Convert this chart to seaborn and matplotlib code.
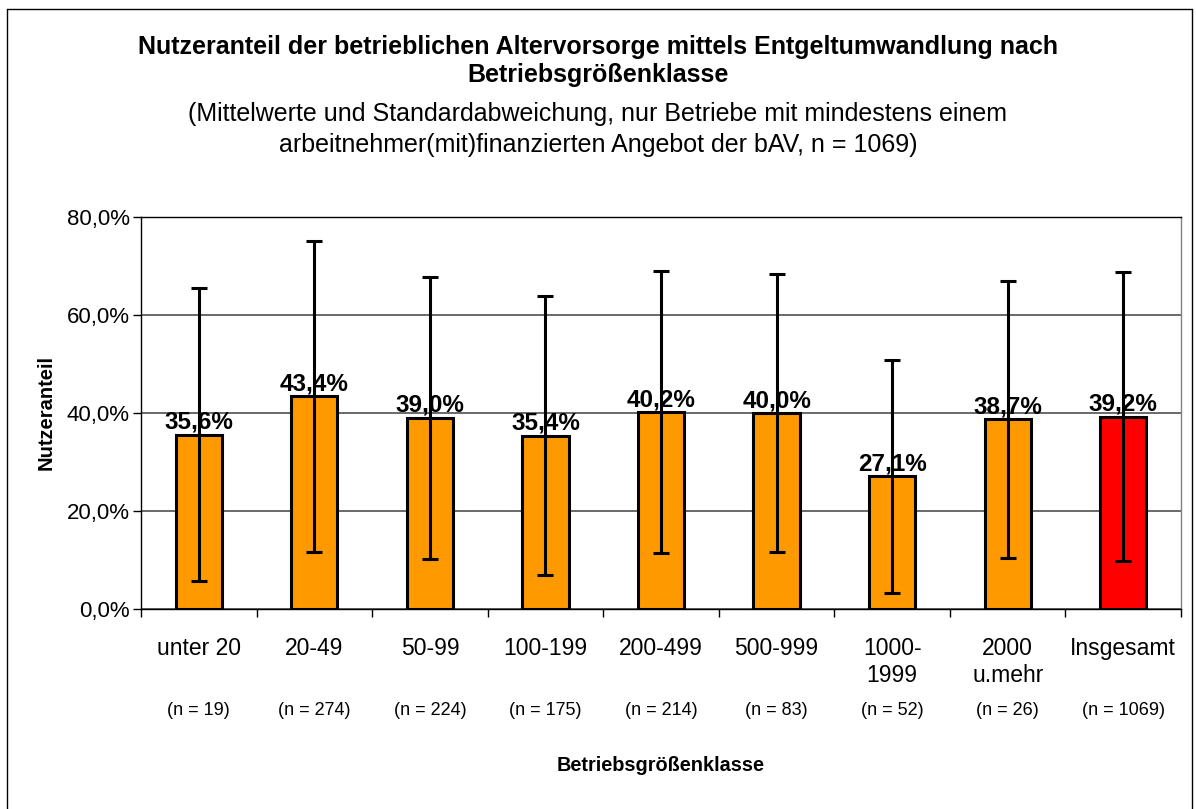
import matplotlib.pyplot as plt
import seaborn as sns
import pandas as pd
from matplotlib.lines import Line2D

# Data
categories = ["unter 20", "20-49", "50-99", "100-199", "200-499",
              "500-999", "1000-\n1999", "2000\nu.mehr", "Insgesamt"]
n_labels = ["(n = 19)", "(n = 274)", "(n = 224)", "(n = 175)", "(n = 214)",
            "(n = 83)", "(n = 52)", "(n = 26)", "(n = 1069)"]
means = [35.6, 43.4, 39.0, 35.4, 40.2, 40.0, 27.1, 38.7, 39.2]
std_devs = [29.9, 31.7, 28.7, 28.4, 28.7, 28.4, 23.8, 28.3, 29.5]
groups = ["Klasse"] * 8 + ["Gesamt"]

df = pd.DataFrame({"kat": categories, "mw": means, "sd": std_devs, "grp": groups})

sns.set_theme(style="white")
plt.rcParams["font.family"] = ["Liberation Sans", "DejaVu Sans"]
plt.rcParams["text.color"] = "black"
plt.rcParams["xtick.color"] = "black"
plt.rcParams["ytick.color"] = "black"
plt.rcParams["axes.labelcolor"] = "black"

fig = plt.figure(figsize=(11.96, 8.09), dpi=100)
ax = fig.add_axes([0.1179, 0.2472, 0.8696, 0.4846])

sns.barplot(data=df, x="kat", y="mw", hue="grp",
            palette={"Klasse": "#FF9900", "Gesamt": "#FF0000"}, saturation=1,
            dodge=False, width=0.4, edgecolor="black", linewidth=2.2,
            legend=False, ax=ax, zorder=3)

# Standardabweichung als Fehlerbalken
ax.errorbar(range(len(categories)), df["mw"], yerr=df["sd"], fmt="none",
            ecolor="black", elinewidth=2.2, capsize=6, capthick=2.2, zorder=4)

for i, v in enumerate(means):
    ax.text(i, v + 0.2, f"{v:.1f}%".replace(".", ","), ha="center", va="bottom",
            fontsize=17.5, fontweight="bold", zorder=5)

ax.set_ylim(0, 80)
ax.set_xlim(-0.5, len(categories) - 0.5)
ax.set_yticks([0, 20, 40, 60, 80])
ax.set_yticklabels([f"{t:.1f}%".replace(".", ",") for t in [0, 20, 40, 60, 80]],
                   fontsize=16)
ax.yaxis.grid(True, color="#505050", linewidth=1.2, zorder=0)
ax.set_axisbelow(True)
for s in ax.spines.values():
    s.set_color("black")
    s.set_linewidth(1)
ax.spines["right"].set_color("#808080")

ax.tick_params(axis="y", left=True, length=6, width=1, color="black", pad=2)
ax.set_xticks(range(len(categories)))
ax.set_xticklabels(categories, fontsize=16.5, linespacing=1.25)
ax.tick_params(axis="x", bottom=False, pad=14)
ax.set_xticks([i + 0.5 for i in range(-1, len(categories))], minor=True)
ax.tick_params(axis="x", which="minor", bottom=True, length=6, width=1, color="black")

for i, t in enumerate(n_labels):
    ax.annotate(t, xy=(i, 0), xycoords=("data", "axes fraction"),
                xytext=(0, -101), textcoords="offset pixels",
                ha="center", va="center", fontsize=13)

ax.set_xlabel("Betriebsgrößenklasse", fontsize=14.3, fontweight="bold", labelpad=0)
ax.xaxis.set_label_coords(0.5, -0.375)
ax.set_ylabel("Nutzeranteil", fontsize=14.5, fontweight="bold")
ax.yaxis.set_label_coords(-0.082, 0.5)

fig.text(0.5, 1 - 47 / 809, "Nutzeranteil der betrieblichen Altervorsorge mittels Entgeltumwandlung nach",
         ha="center", va="center", fontsize=18, fontweight="bold")
fig.text(0.5, 1 - 75 / 809, "Betriebsgrößenklasse",
         ha="center", va="center", fontsize=18, fontweight="bold")
fig.text(0.5, 1 - 114 / 809, "(Mittelwerte und Standardabweichung, nur Betriebe mit mindestens einem",
         ha="center", va="center", fontsize=18)
fig.text(0.5, 1 - 145 / 809, "arbeitnehmer(mit)finanzierten Angebot der bAV, n = 1069)",
         ha="center", va="center", fontsize=18)

# Rahmen um das Diagramm
x0, x1, y0 = 7 / 1196, 1192 / 1196, 1 - 9 / 809
for xs, ys in [([x0, x0], [0, y0]), ([x0, x1], [y0, y0]), ([x1, x1], [y0, 0])]:
    fig.add_artist(Line2D(xs, ys, color="black", linewidth=1, transform=fig.transFigure))

fig.savefig("out.png", dpi=100)
